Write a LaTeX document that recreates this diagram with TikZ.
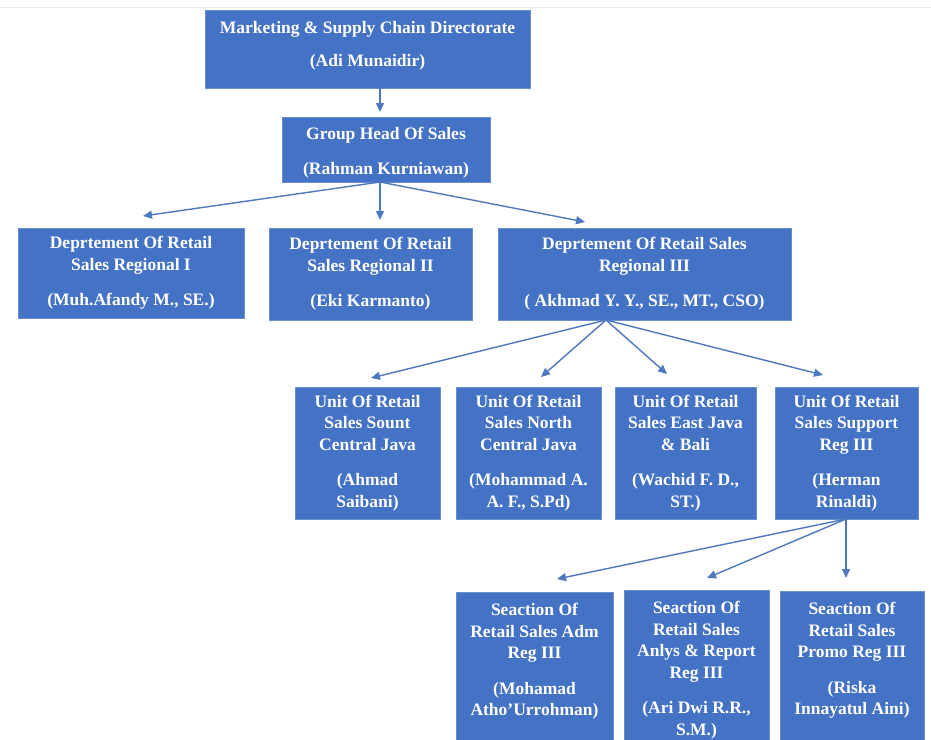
\documentclass[tikz,border=0pt]{standalone}
\usepackage{fontspec}
\setmainfont{Liberation Serif}
\usetikzlibrary{arrows.meta}
\definecolor{boxblue}{HTML}{4472C4}
\definecolor{boxedge}{HTML}{6A8FD0}
\definecolor{arrblue}{HTML}{4E79BF}
\begin{document}
\begin{tikzpicture}[x=1pt,y=-1pt,
  orgbox/.style={fill=boxblue,draw=boxedge,line width=0.8pt,text=white,
    font=\bfseries\fontsize{17.5}{21.5}\selectfont,align=center,inner sep=0pt,outer sep=0pt},
  boxtext/.style={text=white,font=\bfseries\fontsize{17.5}{21.5}\selectfont,align=center,inner sep=0pt},
  conn/.style={draw=arrblue,line width=1.4pt,-{Triangle[width=8pt,length=9pt]}}]
\useasboundingbox (0,0) rectangle (931,739);
\clip (0,0) rectangle (931,739);
\fill[white] (0,0) rectangle (931,739);
\draw[gray!18,line width=1pt] (0,7.5) -- (931,7.5);

% level 1-2
\node[orgbox,minimum width=325pt,minimum height=78pt] (m) at (367.5,49)
  {Marketing \& Supply Chain Directorate\\[12pt](Adi Munaidir)\rule[-10pt]{0pt}{10pt}};
\node[orgbox,minimum width=208pt,minimum height=65pt] (g) at (386,149.5)
  {\rule{0pt}{19pt}Group Head Of Sales\\[13pt](Rahman Kurniawan)};

% departments
\node[orgbox,minimum width=226pt,minimum height=90pt] (d1) at (131,273)
  {Deprtement Of Retail\\Sales Regional I\\[14pt](Muh.Afandy M., SE.)};
\node[orgbox,minimum width=203pt,minimum height=92pt] (d2) at (370.5,274)
  {Deprtement Of Retail\\Sales Regional II\\[14pt](Eki Karmanto)};
\node[orgbox,minimum width=293pt,minimum height=92pt] (d3) at (644.5,274)
  {Deprtement Of Retail Sales\\Regional III\\[14pt]( Akhmad Y. Y., SE., MT., CSO)};

% units
\node[orgbox,minimum width=145pt,minimum height=132pt] (u1) at (367.5,453)
  {Unit Of Retail\\Sales Sount\\Central Java\\[14pt](Ahmad\\Saibani)};
\node[orgbox,minimum width=145pt,minimum height=132pt] (u2) at (528.5,453)
  {Unit Of Retail\\Sales North\\Central Java\\[14pt](Mohammad A.\\A. F., S.Pd)};
\node[orgbox,minimum width=141pt,minimum height=132pt] (u3) at (685.5,453)
  {Unit Of Retail\\Sales East Java\\\& Bali\\[14pt](Wachid F. D.,\\ST.)};
\node[orgbox,minimum width=143pt,minimum height=132pt] (u4) at (846.5,453)
  {Unit Of Retail\\Sales Support\\Reg III\\[14pt](Herman\\Rinaldi)};

% sections (cut off at the bottom)
\node[orgbox,minimum width=157pt,minimum height=170pt,anchor=north] (s1) at (534.5,592) {};
\node[orgbox,minimum width=145pt,minimum height=170pt,anchor=north] (s2) at (696.5,590) {};
\node[orgbox,minimum width=144pt,minimum height=170pt,anchor=north] (s3) at (852,591) {};
\node[boxtext,anchor=north] (s1t) at ([yshift=-11pt]s1.north)
  {Seaction Of\\Retail Sales Adm\\Reg III\\[14pt](Mohamad\\Atho’Urrohman)};
\node[boxtext,anchor=north] (s2t) at ([yshift=-11pt]s2.north)
  {Seaction Of\\Retail Sales\\Anlys \& Report\\Reg III\\[14pt](Ari Dwi R.R.,\\S.M.)};
\node[boxtext,anchor=north] (s3t) at ([yshift=-11pt]s3.north)
  {Seaction Of\\Retail Sales\\Promo Reg III\\[14pt](Riska\\Innayatul Aini)};

% connector points
\coordinate (ms) at (380,88);   \coordinate (gt) at (380,112);
\coordinate (gs) at (380,182);
\coordinate (d1t) at (143,216); \coordinate (d2t) at (380,220); \coordinate (d3t) at (585,222);
\coordinate (d3s) at (606,320);
\coordinate (u1t) at (371,378); \coordinate (u2t) at (541,377);
\coordinate (u3t) at (667,374); \coordinate (u4t) at (823,375);
\coordinate (u4s) at (846,519);
\coordinate (s1a) at (557,579); \coordinate (s2a) at (707,578); \coordinate (s3a) at (846,578);

\draw[conn] (ms) -- (gt);
\draw[conn] (gs) -- (d1t);
\draw[conn] (gs) -- (d2t);
\draw[conn] (gs) -- (d3t);
\draw[conn] (d3s) -- (u1t);
\draw[conn] (d3s) -- (u2t);
\draw[conn] (d3s) -- (u3t);
\draw[conn] (d3s) -- (u4t);
\draw[conn] (u4s) -- (s1a);
\draw[conn] (u4s) -- (s2a);
\draw[conn] (u4s) -- (s3a);
\end{tikzpicture}
\end{document}
